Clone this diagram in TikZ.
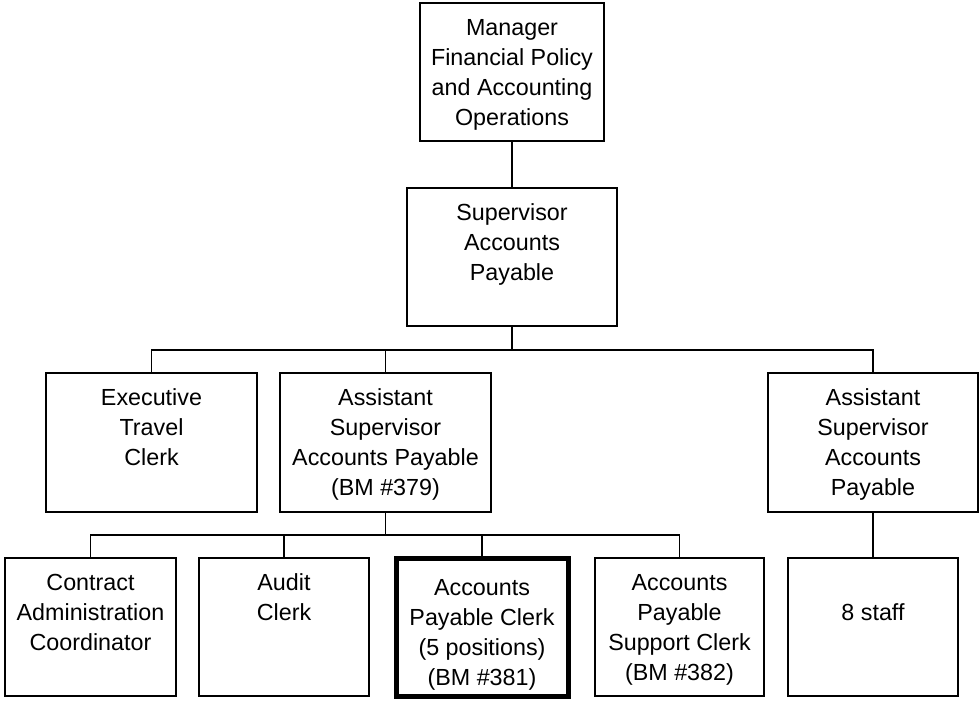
\documentclass[tikz,border=0pt]{standalone}
\usepackage{fontspec}
\setmainfont{Liberation Sans}
\newcommand{\orgtxt}[4]{\parbox[c][#2][t]{#1}{\centering\rule{0pt}{#3}#4\par}}
\begin{document}
\begin{tikzpicture}[x=1pt,y=-1pt,
  box/.style={draw, line width=1.6pt, inner sep=0pt, outer sep=0pt,
    font=\fontsize{23.3pt}{30pt}\selectfont},
  thickbox/.style={box, line width=5pt},
  conn/.style={line width=1.6pt}]
\useasboundingbox (0,0) rectangle (980,705);
% level 0
\node[box] (top) at (512,72) {\orgtxt{184pt}{138pt}{32pt}{Manager\\Financial Policy\\and Accounting\\Operations}};
% level 1
\node[box] (sup) at (512,257) {\orgtxt{210pt}{138pt}{32pt}{Supervisor\\Accounts\\Payable}};
% level 2
\node[box] (exec) at (151.5,442.5) {\orgtxt{211pt}{139pt}{32pt}{Executive\\Travel\\Clerk}};
\node[box] (asst1) at (385.5,442.5) {\orgtxt{211pt}{139pt}{32pt}{Assistant\\Supervisor\\Accounts Payable\\(BM \#379)}};
\node[box] (asst2) at (873,442.5) {\orgtxt{210pt}{139pt}{32pt}{Assistant\\Supervisor\\Accounts\\Payable}};
% level 3
\node[box] (contract) at (90.5,627) {\orgtxt{171pt}{138pt}{32pt}{Contract\\Administration\\Coordinator}};
\node[box] (audit) at (284,627) {\orgtxt{170pt}{138pt}{32pt}{Audit\\Clerk}};
\node[thickbox] (apc) at (482,627) {\orgtxt{172pt}{138pt}{37pt}{Accounts\\Payable Clerk\\(5 positions)\\(BM \#381)}};
\node[box] (support) at (679.5,627) {\orgtxt{169pt}{138pt}{32pt}{Accounts\\Payable\\Support Clerk\\(BM \#382)}};
\node[box] (staff) at (873,627) {\orgtxt{170pt}{138pt}{62pt}{8 staff}};
% buses
\coordinate (bus1) at (512,350);
\coordinate (bus2) at (385.5,535);
% connectors
\draw[conn] (top.south) -- (sup.north);
\draw[conn] (sup.south) -- (bus1);
\draw[conn] (exec.north) -- (exec.north |- bus1) -| (asst2.north);
\draw[conn] (asst1.north) -- (asst1.north |- bus1);
\draw[conn] (asst1.south) -- (bus2);
\draw[conn] (contract.north) -- (contract.north |- bus2) -| (support.north);
\draw[conn] (audit.north) -- (audit.north |- bus2);
\draw[conn] (apc.north) -- (apc.north |- bus2);
\draw[conn] (asst2.south) -- (staff.north);
\end{tikzpicture}
\end{document}
